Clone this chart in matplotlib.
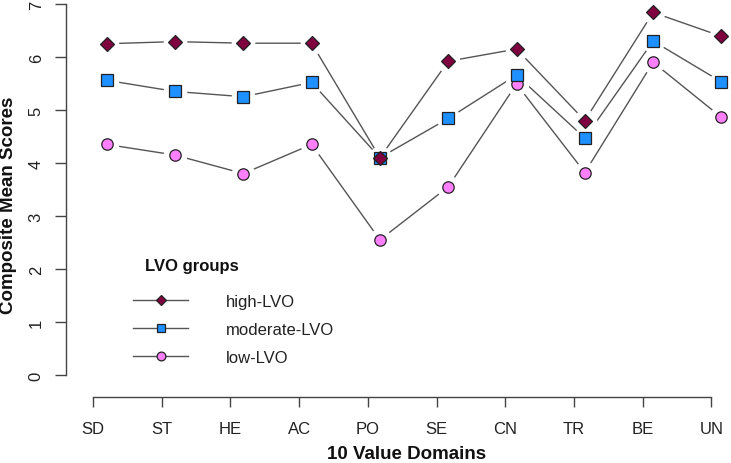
import numpy as np
import matplotlib
matplotlib.use("Agg")
import matplotlib.pyplot as plt
from matplotlib.lines import Line2D

plt.rcParams['font.family'] = ['Liberation Sans', 'DejaVu Sans']

domains = ["SD", "ST", "HE", "AC", "PO", "SE", "CN", "TR", "BE", "UN"]
high_lvo = [6.25, 6.29, 6.26, 6.26, 4.10, 5.92, 6.15, 4.80, 6.84, 6.39]
moderate_lvo = [5.56, 5.35, 5.25, 5.52, 4.10, 4.84, 5.66, 4.47, 6.30, 5.53]
low_lvo = [4.35, 4.15, 3.80, 4.35, 2.55, 3.55, 5.49, 3.82, 5.90, 4.86]
group_labels = ["high-LVO", "moderate-LVO", "low-LVO"]
y_ticks = [0, 1, 2, 3, 4, 5, 6, 7]

W, H = 731, 464
fig = plt.figure(figsize=(W / 100, H / 100), dpi=100)
ax = fig.add_axes([66 / W, (H - 398) / H, (W - 66) / W, 398 / H])

x = np.arange(1, len(domains) + 1)
line_col = '#555555'
styles = [
    dict(marker='D', mfc='#80003f', ms=7.6),
    dict(marker='s', mfc='#1e90ff', ms=8.2),
    dict(marker='o', mfc='#ff80ff', ms=8.2),
]
series = [high_lvo, moderate_lvo, low_lvo]

# connecting lines
for vals in series:
    ax.plot(x, vals, color=line_col, lw=1.0, zorder=1, solid_capstyle='butt')
# white gaps around points (R type="b")
for vals in series:
    ax.plot(x, vals, ls='none', marker='o', ms=16, mfc='white', mec='white', zorder=2)
# markers, low drawn first so high is on top
for vals, st in reversed(list(zip(series, styles))):
    ax.plot(x, vals, ls='none', marker=st['marker'], ms=st['ms'], mfc=st['mfc'],
            mec='#222222', mew=0.9, zorder=3)

ax.set_xlim(0.404, 10.14)
ax.set_ylim(-0.415, 7.094)

tick_pos = 0.80 + 1.006 * np.arange(len(domains))
ax.set_xticks(tick_pos)
ax.set_xticklabels(domains)
ax.set_yticks(y_ticks)
ax.set_yticklabels([str(v) for v in y_ticks])

for s in ['top', 'right']:
    ax.spines[s].set_visible(False)
ax.spines['left'].set_bounds(0, 7)
ax.spines['bottom'].set_bounds(tick_pos[0], tick_pos[-1])
for s in ['left', 'bottom']:
    ax.spines[s].set_color('#444444')
    ax.spines[s].set_linewidth(1.0)

ax.tick_params(axis='both', colors='#444444', labelcolor='#222222', width=1.0,
               labelsize=12)
ax.tick_params(axis='x', length=7.3, pad=10)
ax.tick_params(axis='y', length=8, pad=8, labelrotation=90)
for lbl in ax.get_yticklabels():
    lbl.set_va('center')

fig.text(9 / W, 1 - 205 / H, "Composite Mean Scores", rotation=90, ha='center',
         va='center', fontsize=13.5, fontweight='bold', color='#111111')
fig.text(407 / W, 1 - 455 / H, "10 Value Domains", ha='center', va='center',
         fontsize=13.5, fontweight='bold', color='#111111')

legend_ms = [5.4, 5.6, 6.3]
handles = [Line2D([], [], color=line_col, lw=1.0, marker=st['marker'], ms=m,
                  mfc=st['mfc'], mec='#222222', mew=0.9)
           for st, m in zip(styles, legend_ms)]
leg = fig.legend(handles, group_labels, loc='upper left',
                 bbox_to_anchor=(133 / W, 1 - 295 / H), frameon=False,
                 fontsize=12, handlelength=3.3, handletextpad=2.3,
                 labelspacing=0.78, borderpad=0, borderaxespad=0)
for t in leg.get_texts():
    t.set_color('#222222')
fig.text(145 / W, 1 - 267 / H, "LVO groups", ha='left', va='center',
         fontsize=12, fontweight='bold', color='#111111')

fig.savefig("out.png", dpi=100)
